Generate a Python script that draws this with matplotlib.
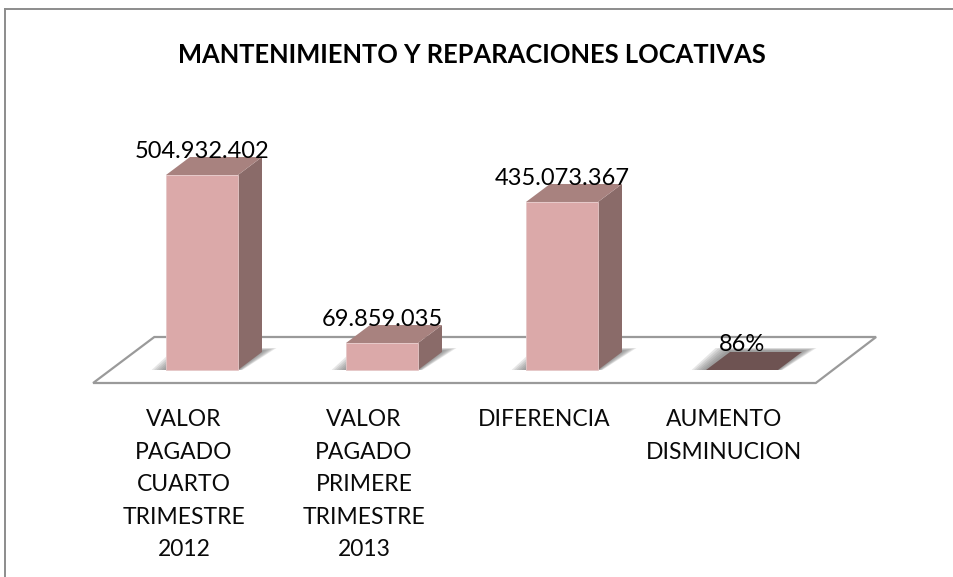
"""Mantenimiento y reparaciones locativas : barres 3D dessinées à la main."""

import matplotlib
matplotlib.use("Agg")
import matplotlib.pyplot as plt
from matplotlib.patches import Polygon

categorias = ["VALOR\nPAGADO\nCUARTO\nTRIMESTRE\n2012",
              "VALOR\nPAGADO\nPRIMERE\nTRIMESTRE\n2013",
              "DIFERENCIA",
              "AUMENTO\nDISMINUCION"]
valores = [504932402, 69859035, 435073367, 0.86]
etiquetas = ["504.932.402", "69.859.035", "435.073.367", "86%"]
titulo = "MANTENIMIENTO Y REPARACIONES LOCATIVAS"

W, H = 954, 577
plt.rcParams["font.family"] = ["Lato", "DejaVu Sans"]

fig = plt.figure(figsize=(W / 100, H / 100), dpi=100)

# Axes : x = catégorie, y = valeur ; base des barres à 370 px
esc = 195 / 504932402  # px par unité
haut_px = 290
ax = fig.add_axes([112 / W, (H - 370) / H, 720 / W, haut_px / H])
ax.set_xlim(-0.5, 3.5)
ax.set_ylim(0, haut_px / esc)
ax.axis("off")

DX = 24 / 180          # profondeur en catégories
DY = 18 / esc          # profondeur en valeur
ANCHO = 72 / 180

FRENTE = "#dba9a9"
LADO = "#8a6b69"
TECHO = "#a8827f"
PLANO = "#6e5352"


def poly(pts, **kw):
    ax.add_patch(Polygon(pts, closed=True, clip_on=False, **kw))


def y_px(p):
    return p / esc


# Plancher
poly([(-0.605, y_px(-13)), (3.41, y_px(-13)), (3.745, y_px(33)), (-0.265, y_px(33))],
     facecolor="white", edgecolor="#9a9a9a", linewidth=1.6, zorder=1)

# Ombres douces puis barres
for i, v in enumerate(valores):
    x0, x1 = i - ANCHO / 2, i + ANCHO / 2
    for k in range(6):
        e = (6 - k) * 2.4 / 180
        poly([(x0 - e, 0), (x1 + e * 0.3, 0), (x1 + DX + e, y_px(19 + (6 - k) * 0.5)),
              (x0 + DX - e, y_px(19 + (6 - k) * 0.5))],
             facecolor="#707070", edgecolor="none", alpha=0.17, zorder=2)
    if v > 1:
        poly([(x0, 0), (x1, 0), (x1, v), (x0, v)], facecolor=FRENTE, edgecolor="#e6c8c8",
             linewidth=0.6, zorder=4)
        poly([(x1, 0), (x1 + DX, DY), (x1 + DX, v + DY), (x1, v)], facecolor=LADO,
             edgecolor="none", zorder=3)
        poly([(x0, v), (x1, v), (x1 + DX, v + DY), (x0 + DX, v + DY)], facecolor=TECHO,
             edgecolor="none", zorder=3)
    else:
        poly([(x0, 0), (x1, 0), (x1 + DX, DY), (x0 + DX, DY)], facecolor=PLANO,
             edgecolor="none", zorder=3)
    ax.text(i, v + DY - y_px(5) if v > 1 else DY - y_px(3), etiquetas[i], ha="center", va="bottom",
            fontsize=17, color="black", zorder=6)
    # Les libellés sont décalés vers la gauche, comme sur l'axe 3D
    ax.text(i - 18 / 180, y_px(-39), categorias[i], ha="center", va="top", fontsize=16.5,
            color="#0a0a0a", linespacing=1.68, zorder=6)

fig.text(472 / W, 1 - 55 / H, titulo, ha="center", va="center", fontsize=18.4,
         fontweight="bold", color="black")

# Cadre du graphique
fig.add_artist(plt.Line2D([5.5 / W, 5.5 / W], [0, 1 - 8.5 / H], color="#8c8c8c", linewidth=1.4))
fig.add_artist(plt.Line2D([5.5 / W, 1], [1 - 8.5 / H, 1 - 8.5 / H], color="#8c8c8c", linewidth=1.4))

fig.savefig("out.png", dpi=100)
